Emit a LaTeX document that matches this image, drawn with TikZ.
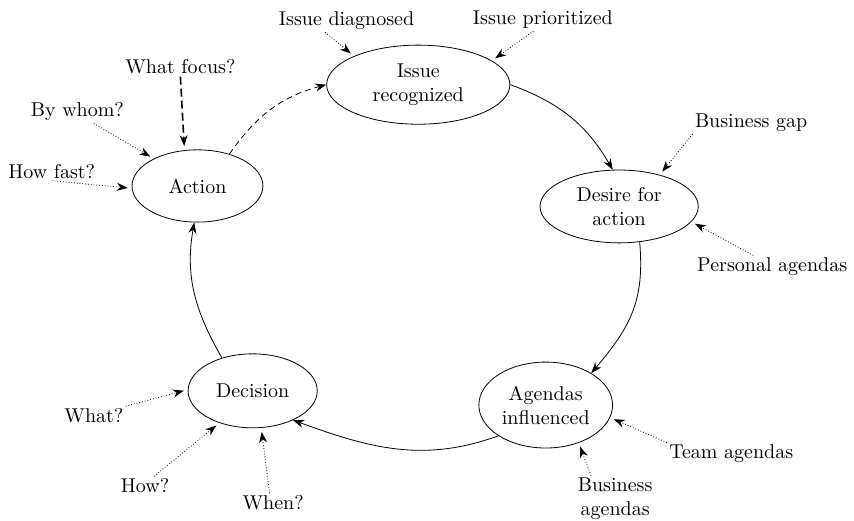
\documentclass[tikz,border=0pt]{standalone}
\usepackage{tikz}
\usetikzlibrary{arrows.meta,shapes,positioning}
\tikzstyle{stage}=[ellipse,draw=black,thin,align=center,inner sep=1pt]
\tikzstyle{factor}=[inner sep=1pt,align=center]
\tikzstyle{hint}=[->,densely dotted,thin,shorten >=2pt]

\begin{document}
\begin{tikzpicture}[>={Stealth[length=5.5pt,width=4pt,inset=1.8pt]}]
    \useasboundingbox (0,0) rectangle (15.007,9.138);

    % the cycle
    \node[stage,minimum width=3.22cm,minimum height=1.39cm] (issue) at (7.35,7.65) {Issue \\ recognized};
    \node[stage,minimum width=2.78cm,minimum height=1.28cm] (desire) at (10.88,5.51) {Desire for \\ action};
    \node[stage,minimum width=2.35cm,minimum height=1.51cm] (agendas) at (9.59,2.02) {Agendas \\ influenced};
    \node[stage,minimum width=2.27cm,minimum height=1.30cm] (decision) at (4.44,2.27) {Decision};
    \node[stage,minimum width=2.30cm,minimum height=1.27cm] (action) at (3.47,5.87) {Action};

    \draw[->] (issue.east) to[out=-20,in=120] (desire.100);
    \draw[->] (desire.-60) to[out=-85,in=50,looseness=1.1] (agendas.35);
    \draw[->] (agendas.-147) to[out=200,in=-20] (decision.-36);
    \draw[->] (decision.133) to[out=120,in=-100] (action.-95);
    \draw[->,densely dashed] (action.45) to[out=55,in=195] (issue.west);

    % what acts on each stage
    \node[factor] (diag) at (6.09,8.77) {Issue diagnosed};
    \node[factor] (prio) at (9.54,8.79) {Issue prioritized};
    \node[factor] (gap) at (13.20,6.98) {Business gap};
    \node[factor] (personal) at (13.57,4.45) {Personal agendas};
    \node[factor] (team) at (12.85,1.16) {Team agendas};
    \node[factor] (bagendas) at (10.81,0.37) {Business \\ agendas};
    \node[factor] (what) at (1.65,1.83) {What?};
    \node[factor] (how) at (2.55,0.60) {How?};
    \node[factor] (when) at (4.80,0.30) {When?};
    \node[factor] (focus) at (3.17,7.96) {What focus?};
    \node[factor] (whom) at (1.36,7.17) {By whom?};
    \node[factor] (fast) at (0.91,6.13) {How fast?};

    \draw[hint] (diag.-152) -- (issue.156);
    \draw[hint] (prio.-130) -- (issue.18);
    \draw[hint] (gap.south west) -- (desire.38);
    \draw[hint] (personal.149) -- (desire.-12);
    \draw[hint] (team.north west) -- (agendas.-11);
    \draw[hint] (bagendas.136) -- (agendas.-49);
    \draw[hint] (what.north east) -- (decision.179);
    \draw[hint] (how.47) -- (decision.-136);
    \draw[hint] (when.110) -- (decision.-77);
    \draw[->,thick,dash pattern=on 4pt off 2pt,shorten >=2pt] (focus.south) -- (action.110);
    \draw[hint] (whom.-35) -- (action.148);
    \draw[hint] (fast.south) -- (action.182);
\end{tikzpicture}
\end{document}
